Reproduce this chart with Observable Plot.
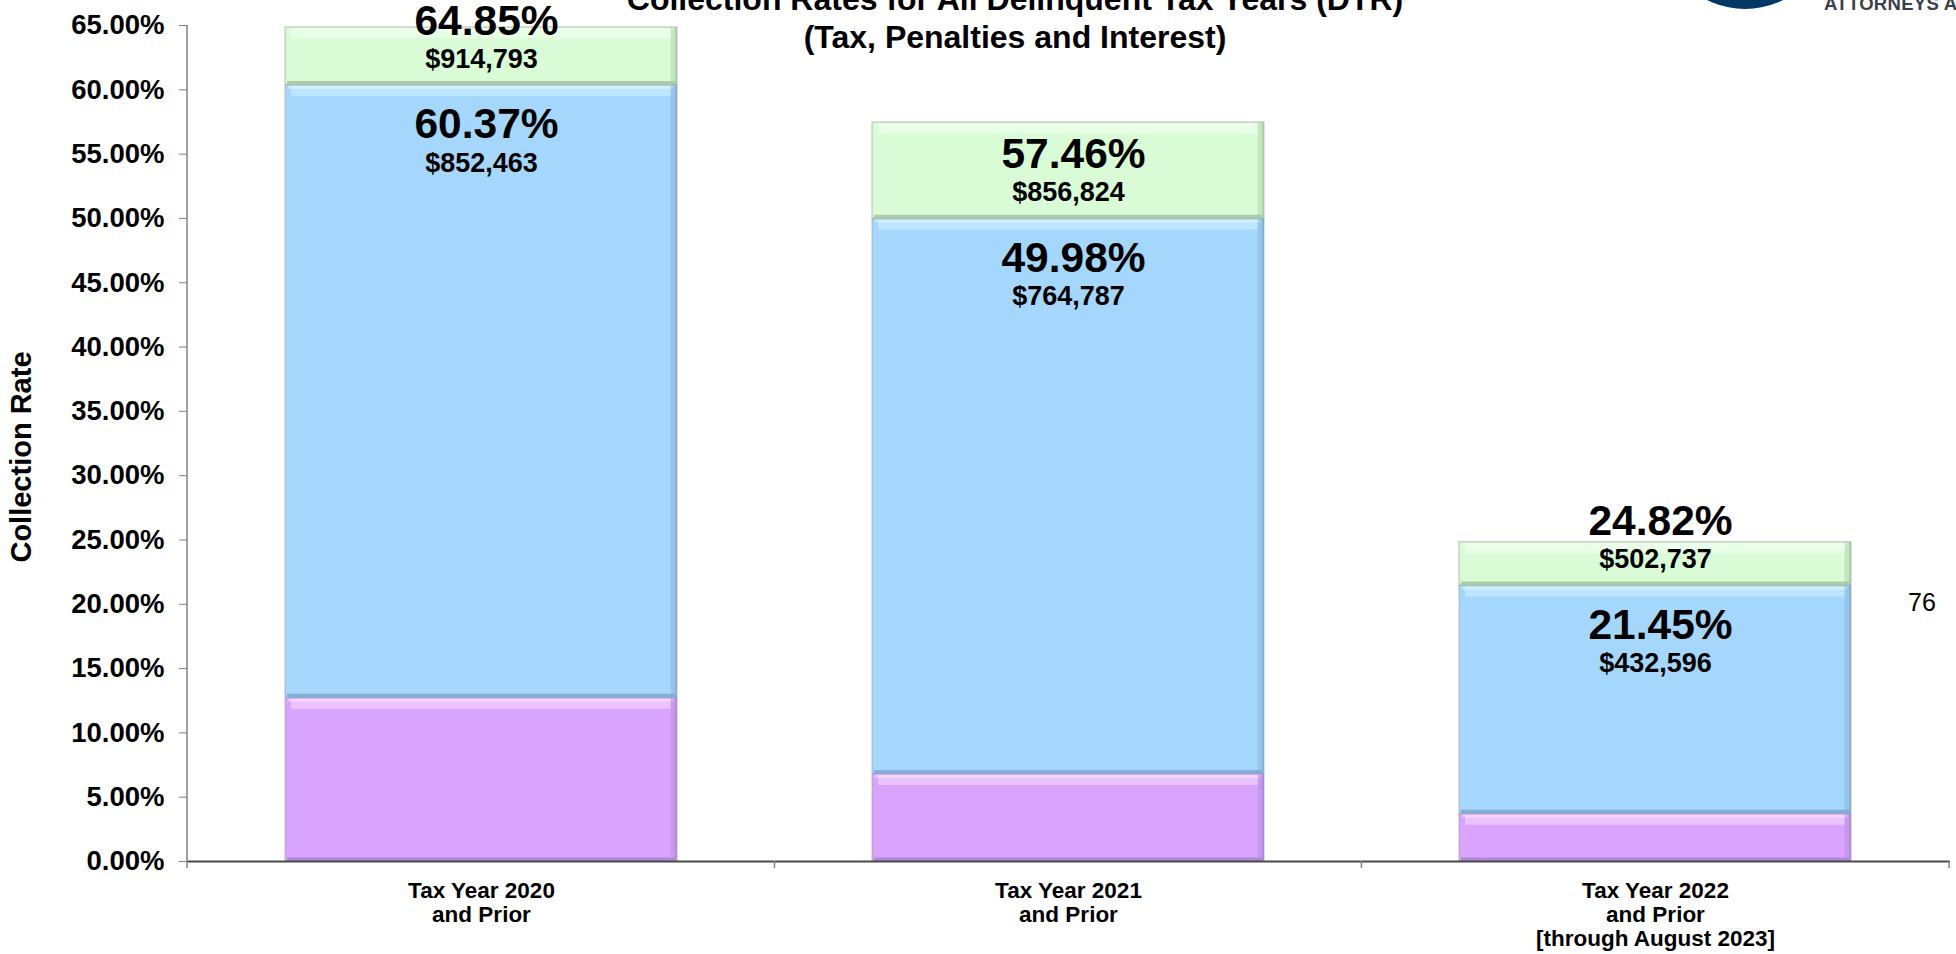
<!DOCTYPE html>
<html>
<head>
<meta charset="utf-8">
<script src="https://cdn.jsdelivr.net/npm/d3@7"></script>
<script src="https://cdn.jsdelivr.net/npm/@observablehq/plot@0.6"></script>
<style>
  html, body { margin: 0; padding: 0; background: #fff; overflow: hidden; }
  #wrap { position: relative; width: 1956px; height: 954px; overflow: hidden;
          font-family: "Liberation Sans", Arial, Helvetica, sans-serif; color: #000; }
  #chart { position: absolute; left: 0; top: 0; }
  .title { position: absolute; left: 1015px; top: -20px; transform: translateX(-50%);
           font-size: 32px; line-height: 38px; font-weight: bold; text-align: center; white-space: nowrap; }
  .ytitle { position: absolute; left: 21px; top: 457px; transform: translate(-50%, -50%) rotate(-90deg);
            font-size: 29px; font-weight: bold; white-space: nowrap; }
  .pagenum { position: absolute; left: 1922px; top: 587px; transform: translateX(-50%);
             font-size: 25px; line-height: 30px; white-space: nowrap; }
  .logo-circle { position: absolute; left: 1660px; top: -161px; width: 170px; height: 170px;
                 border-radius: 50%; background: #023866; }
  .logo-text { position: absolute; left: 1824px; top: -6px; font-size: 18.5px; line-height: 20px;
               font-weight: bold; letter-spacing: 0.3px; color: #3b3f4b; white-space: nowrap; }
</style>
</head>
<body>
<div id="wrap">
  <div id="chart"></div>
  <div class="title">Collection Rates for All Delinquent Tax Years (DTR)<br>(Tax, Penalties and Interest)</div>
  <div class="ytitle">Collection Rate</div>
  <div class="pagenum">76</div>
  <div class="logo-circle"></div>
  <div class="logo-text">ATTORNEYS AT LAW</div>
</div>
<script>
// ---------- data ----------
const categories = [
  "Tax Year 2020\nand Prior",
  "Tax Year 2021\nand Prior",
  "Tax Year 2022\nand Prior\n[through August 2023]"
];
const baseRate   = [12.73, 6.81, 3.71];        // lowest (purple) segment, unlabeled
const priorRate  = [60.37, 49.98, 21.45];      // cumulative top of blue segment
const totalRate  = [64.85, 57.46, 24.82];      // cumulative top of green segment
const priorAmount = [852463, 764787, 432596];
const totalAmount = [914793, 856824, 502737];
const seriesNames = ["Base", "Prior years", "Additional"];
const yTicks = [0, 5, 10, 15, 20, 25, 30, 35, 40, 45, 50, 55, 60, 65];

// ---------- styles ----------
const seriesFill      = ["#d8a4fe", "#a5d7fc", "#d9fbd6"];
const seriesHighlight = ["#efc8ff", "#bfe9ff", "#e9ffe8"];
const seriesShadow    = ["#ad86d6", "#82a9d0", "#a6c7a2"];

// ---------- tables ----------
const segments = [];
categories.forEach((cat, i) => {
  const bounds = [0, baseRate[i], priorRate[i], totalRate[i]];
  seriesNames.forEach((s, k) => segments.push({cat, series: s, k, y1: bounds[k], y2: bounds[k + 1]}));
});
const labels = categories.map((cat, i) => ({
  cat, prior: priorRate[i], total: totalRate[i], priorAmt: priorAmount[i], totalAmt: totalAmount[i]
}));
const fmtPct = v => v.toFixed(2) + "%";
const fmtUsd = v => "$" + d3.format(",")(v);

// ---------- layout ----------
const W = 1956, H = 954, mL = 187, mR = 6, mT = 25, mB = 93;
const padInner = 0.332, padOuter = padInner / 2;
const step = (W - mL - mR) / (categories.length - padInner + 2 * padOuter);
const bw = step * (1 - padInner);

const bevelMarks = [];
seriesNames.forEach((s, k) => {
  const data = segments.filter(d => d.k === k);
  bevelMarks.push(
    Plot.tickY(data, {x: "cat", y: "y2", dy: 6, strokeWidth: 10, stroke: seriesHighlight[k], strokeOpacity: 0.85, insetLeft: 6, insetRight: 6}),
    Plot.tickY(data, {x: "cat", y: "y2", dy: 2.5, strokeWidth: 3, stroke: "#ffffff", strokeOpacity: 0.35, insetLeft: 3, insetRight: 3}),
    Plot.tickY(data, {x: "cat", y: "y1", dy: -2, strokeWidth: 4, stroke: seriesShadow[k], strokeOpacity: 0.9, insetLeft: 2, insetRight: 2}),
    Plot.barY(data, {x: "cat", y1: "y1", y2: "y2", insetLeft: bw - 7, fill: seriesShadow[k], fillOpacity: 0.4}),
    Plot.barY(data, {x: "cat", y1: "y1", y2: "y2", insetLeft: bw - 2.5, fill: seriesShadow[k], fillOpacity: 0.7})
  );
});

const plot = Plot.plot({
  width: W, height: H,
  marginLeft: mL, marginRight: mR, marginTop: mT, marginBottom: mB,
  style: {fontFamily: '"Liberation Sans", Arial, sans-serif', fontWeight: "bold", background: "transparent", color: "#000", overflow: "visible"},
  x: {domain: categories, paddingInner: padInner, paddingOuter: padOuter, align: 0.5, label: null},
  y: {domain: [0, 65], label: null},
  color: {domain: seriesNames, range: seriesFill},
  marks: [
    Plot.barY(segments, {x: "cat", y1: "y1", y2: "y2", fill: "series", stroke: "#9a9a9a", strokeOpacity: 0.6, strokeWidth: 1}),
    ...bevelMarks,
    Plot.ruleY([0], {stroke: "#4a4a4a", strokeWidth: 2}),
    Plot.axisY({ticks: yTicks, tickFormat: fmtPct, tickSize: 8, tickPadding: 15, fontSize: 27.5, stroke: "#808080", label: null}),
    Plot.axisX({tickSize: 0, tickPadding: 19, fontSize: 22.5, lineHeight: 1.08, label: null}),
    Plot.text(labels, {x: "cat", y: "prior", text: d => fmtPct(d.total), dy: -64, dx: 5, fontSize: 42.5, fill: "#000"}),
    Plot.text(labels, {x: "cat", y: "prior", text: d => fmtUsd(d.totalAmt), dy: -26, fontSize: 27, fill: "#000"}),
    Plot.text(labels, {x: "cat", y: "prior", text: d => fmtPct(d.prior), dy: 39.5, dx: 5, fontSize: 42.5, fill: "#000"}),
    Plot.text(labels, {x: "cat", y: "prior", text: d => fmtUsd(d.priorAmt), dy: 78, fontSize: 27, fill: "#000"})
  ]
});

// y-axis line and category-boundary ticks, placed through the plot's own scales
const xs = plot.scale("x"), ys = plot.scale("y");
const y0 = ys.apply(0), yTop = ys.apply(65);
const g = d3.select(plot).append("g").attr("stroke", "#808080").attr("stroke-width", 1.5);
g.append("line").attr("x1", mL).attr("x2", mL).attr("y1", yTop).attr("y2", y0 + 7);
const gap = (step - bw) / 2;
categories.forEach((c, i) => {
  const left = xs.apply(c) - gap;
  if (i > 0) g.append("line").attr("x1", left).attr("x2", left).attr("y1", y0).attr("y2", y0 + 7);
  if (i === categories.length - 1) {
    const right = xs.apply(c) + bw + gap;
    g.append("line").attr("x1", right).attr("x2", right).attr("y1", y0).attr("y2", y0 + 7);
  }
});

document.getElementById("chart").appendChild(plot);
</script>
</body>
</html>
